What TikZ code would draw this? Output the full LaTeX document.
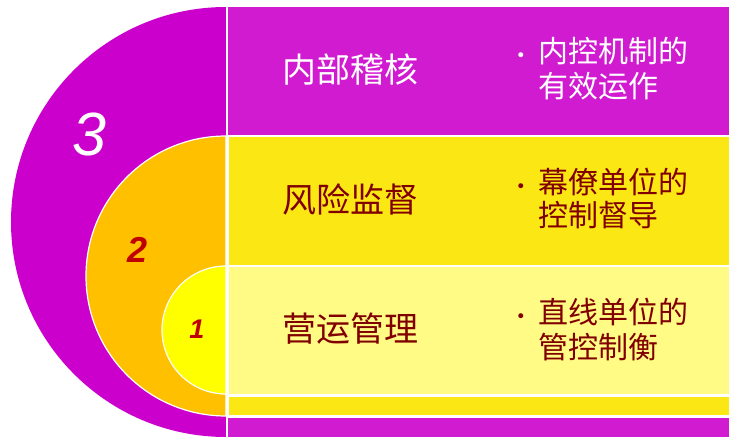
\documentclass[tikz,border=0pt]{standalone}
\usepackage{fontspec}
\newfontfamily\cjk{Noto Sans CJK SC}
\newfontfamily\arialf{Liberation Sans}
\newfontfamily\dejav{DejaVu Sans}
\definecolor{purpA}{HTML}{CC00CC}
\definecolor{purpB}{HTML}{D11BD1}
\definecolor{orng}{HTML}{FFC000}
\definecolor{yelB}{HTML}{FAE714}
\definecolor{yelA}{HTML}{FFFF00}
\definecolor{yelL}{HTML}{FFFB84}
\definecolor{txtred}{HTML}{800000}
\definecolor{numred}{HTML}{C00000}
\tikzset{
  sep/.style={draw=white, line width=1.2pt},
  rowsep/.style={draw=white, line width=2.2pt},
  title/.style={font=\cjk\fontsize{34}{34}\selectfont, inner sep=0pt, anchor=center},
  bl/.style={font=\cjk\fontsize{30}{30}\selectfont, inner sep=0pt, anchor=west},
  dot/.style={font=\dejav\fontsize{17}{17}\selectfont, inner sep=0pt, anchor=center},
  num/.style={inner sep=0pt, anchor=center}
}
\begin{document}
\begin{tikzpicture}[x=1pt,y=-1pt]
\useasboundingbox (0,0) rectangle (733,438);
\fill[white] (0,0) rectangle (733,438);
% level 3
\fill[purpA] (226,7) arc[start angle=90, end angle=270, radius=215pt] -- cycle;
\fill[purpB] (228,7) rectangle (729,437);
% level 2
\path[fill=orng, sep] (226,136) arc[start angle=90, end angle=270, radius=140pt] -- cycle;
\path[fill=yelB, rowsep] (228,136) rectangle (730,416.5);
% level 1
\path[fill=yelA, sep] (226,266) arc[start angle=90, end angle=270, radius=64pt] -- cycle;
\path[fill=yelL, rowsep] (228,266) rectangle (730,395.5);
% vertical divider
\coordinate (vt) at (227,6);
\coordinate (vb) at (227,438);
\draw[white, line width=2pt] (vt) -- (vb);
% numbers
\node[num, text=white, font=\arialf\itshape\fontsize{61}{61}\selectfont] (n3) at (89,135) {3};
\node[num, text=numred, font=\arialf\bfseries\itshape\fontsize{36}{36}\selectfont] (n2) at (138,250) {2};
\node[num, text=numred, font=\arialf\bfseries\itshape\fontsize{27}{27}\selectfont] (n1) at (197,329) {1};
% row 1
\node[title, text=white] (t1) at (350,70) {内部稽核};
\node[dot, text=white] (d1) at (521,57) {•};
\node[bl, text=white] (b1a) at (538,51) {内控机制的};
\node[bl, text=white] (b1b) at (538,86) {有效运作};
% row 2
\node[title, text=txtred] (t2) at (350,199) {风险监督};
\node[dot, text=txtred] (d2) at (521,188) {•};
\node[bl, text=txtred] (b2a) at (538,182) {幕僚单位的};
\node[bl, text=txtred] (b2b) at (538,215) {控制督导};
% row 3
\node[title, text=txtred] (t3) at (350,329) {营运管理};
\node[dot, text=txtred] (d3) at (521,318) {•};
\node[bl, text=txtred] (b3a) at (538,312) {直线单位的};
\node[bl, text=txtred] (b3b) at (538,347) {管控制衡};
\end{tikzpicture}
\end{document}
